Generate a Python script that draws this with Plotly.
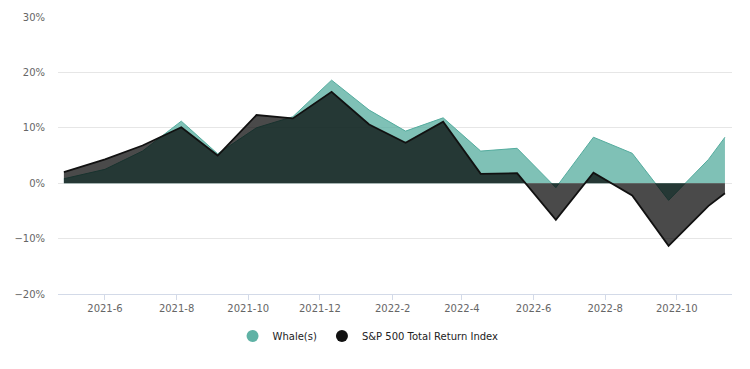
import plotly.graph_objects as go

dates = ["2021-04-27", "2021-06-01", "2021-07-03", "2021-08-05", "2021-09-05",
         "2021-10-08", "2021-11-08", "2021-12-11", "2022-01-12", "2022-02-12",
         "2022-03-16", "2022-04-17", "2022-05-18", "2022-06-20", "2022-07-22",
         "2022-08-24", "2022-09-24", "2022-10-28", "2022-11-11"]
whale = [0.8, 2.5, 5.8, 11.2, 5.3, 10.0, 12.0, 18.6, 13.2, 9.4,
         11.8, 5.8, 6.3, -0.8, 8.3, 5.4, -3.1, 4.3, 8.3]
sp500 = [2.0, 4.3, 6.8, 10.1, 5.0, 12.3, 11.7, 16.5, 10.6, 7.3,
         11.1, 1.7, 1.8, -6.6, 1.9, -2.2, -11.3, -4.1, -1.8]

names = ["Whale(s)", "S&P 500 Total Return Index"]
teal = "rgb(84,172,158)"

fig = go.Figure()
fig.add_trace(go.Scatter(x=dates, y=whale, mode="lines", fill="tozeroy",
                         line=dict(color=teal, width=1),
                         fillcolor="rgba(84,172,158,0.75)",
                         showlegend=False, name=names[0]))
fig.add_trace(go.Scatter(x=dates, y=sp500, mode="lines", fill="tozeroy",
                         line=dict(color="#111111", width=1.8),
                         fillcolor="rgba(0,0,0,0.71)",
                         showlegend=False, name=names[1]))
# legend entries with circle symbols
fig.add_trace(go.Scatter(x=[None], y=[None], mode="markers", name=names[0],
                         marker=dict(color="rgb(95,178,165)", size=12, symbol="circle")))
fig.add_trace(go.Scatter(x=[None], y=[None], mode="markers", name=names[1],
                         marker=dict(color="#111111", size=12, symbol="circle")))

fig.update_layout(
    width=742, height=361,
    margin=dict(l=50, r=18, t=9, b=75, autoexpand=False),
    paper_bgcolor="white", plot_bgcolor="white",
    font=dict(family="DejaVu Sans", size=10, color="#666666"),
    legend=dict(orientation="h", x=0.46, xanchor="center", y=-0.152, yanchor="middle",
                font=dict(size=10, color="#222222"), itemwidth=30,
                bgcolor="rgba(0,0,0,0)"),
    xaxis=dict(type="date", range=["2021-04-22", "2022-11-17"],
               tick0="2021-06-01", dtick="M2", tickformat="%Y-%-m",
               showgrid=False, showline=True, linecolor="#d3dae8", linewidth=1,
               ticks="outside", ticklen=5, tickcolor="#d3dae8", automargin=False,
               tickfont=dict(size=10, color="#666666"), zeroline=False),
    yaxis=dict(range=[-20, 30], dtick=10, ticksuffix="%",
               showgrid=True, gridcolor="#e6e6e6", gridwidth=1,
               zeroline=False, showline=False, automargin=False,
               ticklabelstandoff=12,
               tickfont=dict(size=10, color="#666666")),
)

fig.write_html("out.html")
